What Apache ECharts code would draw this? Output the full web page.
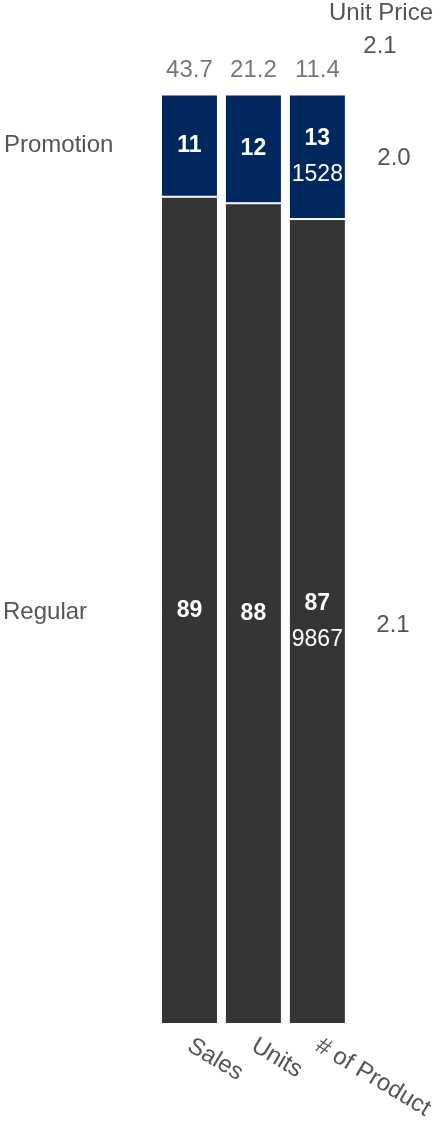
<!DOCTYPE html>
<html>
<head>
<meta charset="utf-8">
<script src="https://cdn.jsdelivr.net/npm/echarts@6/dist/echarts.min.js"></script>
<style>
  html, body { margin: 0; padding: 0; background: #fff; }
  #container { width: 437px; height: 1124px; }
</style>
</head>
<body>
<div id="container"></div>
<script>
// data
var categories = ['Sales', 'Units', '# of Product'];
var rowNames = ['Regular', 'Promotion'];
var regularShare = [89.0, 88.3, 86.6];
var promoShare = [11.0, 11.7, 13.4];
var regularCount = [null, null, 9867];
var promoCount = [null, null, 1528];
var totals = [43.7, 21.2, 11.4];
var unitPrice = [2.1, 2.0]; // regular, promotion
var unitPriceTotal = 2.1;

var FONT = '"Liberation Sans", Arial, sans-serif';
var GREY = '#555555';

function segLabel(counts) {
    return {
        show: true,
        position: 'inside',
        formatter: function (p) {
            var s = '{b|' + Math.round(p.value) + '}';
            if (counts[p.dataIndex] != null) s += '\n{n|' + counts[p.dataIndex] + '}';
            return s;
        },
        rich: {
            b: { color: '#fff', fontSize: 23, fontWeight: 'bold', fontFamily: FONT, lineHeight: 36 },
            n: { color: '#fff', fontSize: 23, fontFamily: FONT, lineHeight: 36 }
        }
    };
}

var dom = document.getElementById('container');
var myChart = echarts.init(dom, null, { renderer: 'canvas' });

var option = {
    animation: false,
    textStyle: { fontFamily: FONT },
    grid: { left: 157.5, right: 87.5, top: 94.5, bottom: 100 },
    xAxis: {
        type: 'category',
        data: categories,
        axisLine: { show: false },
        axisTick: { show: false },
        axisLabel: {
            rotate: -31,
            margin: 20,
            color: GREY,
            fontSize: 24,
            fontFamily: FONT
        }
    },
    yAxis: {
        type: 'value',
        min: 0,
        max: 100,
        show: false
    },
    series: [
        {
            name: rowNames[0],
            type: 'bar',
            stack: 'share',
            barWidth: 57,
            data: regularShare,
            itemStyle: { color: '#353535', borderColor: '#fff', borderWidth: 1 },
            label: segLabel(regularCount)
        },
        {
            name: rowNames[1],
            type: 'bar',
            stack: 'share',
            barWidth: 57,
            data: promoShare,
            itemStyle: { color: '#00285e', borderColor: '#fff', borderWidth: 1 },
            label: segLabel(promoCount)
        },
        {
            type: 'scatter',
            data: totals.map(function () { return 100; }),
            symbolSize: 0,
            silent: true,
            label: {
                show: true,
                position: 'top',
                distance: 12,
                color: GREY,
                fontSize: 24,
                fontFamily: FONT,
                formatter: function (p) { return totals[p.dataIndex].toFixed(1); }
            }
        }
    ]
};

myChart.setOption(option);

// row labels on the left, unit prices on the right
var yReg = myChart.convertToPixel({ seriesIndex: 0 }, [0, regularShare[0] / 2])[1];
var yPromo = myChart.convertToPixel({ seriesIndex: 0 }, [0, regularShare[0] + promoShare[0] / 2])[1];
var yRegP = myChart.convertToPixel({ seriesIndex: 0 }, [2, regularShare[2] / 2])[1];
var yPromoP = myChart.convertToPixel({ seriesIndex: 0 }, [2, regularShare[2] + promoShare[2] / 2])[1];

function txt(x, y, text, align) {
    return {
        type: 'text',
        x: x, y: y,
        style: {
            text: text,
            fill: GREY,
            font: '24px ' + FONT,
            textAlign: align,
            textVerticalAlign: 'middle'
        }
    };
}

myChart.setOption({
    graphic: [
        txt(4, yPromo, rowNames[1], 'left'),
        txt(3, yReg + 2, rowNames[0], 'left'),
        txt(381, 13, 'Unit Price', 'center'),
        txt(380, 46, unitPriceTotal.toFixed(1), 'center'),
        txt(394, yPromoP + 2, unitPrice[1].toFixed(1), 'center'),
        txt(393, yRegP + 4, unitPrice[0].toFixed(1), 'center')
    ]
});

window.addEventListener('resize', myChart.resize);
</script>
</body>
</html>
